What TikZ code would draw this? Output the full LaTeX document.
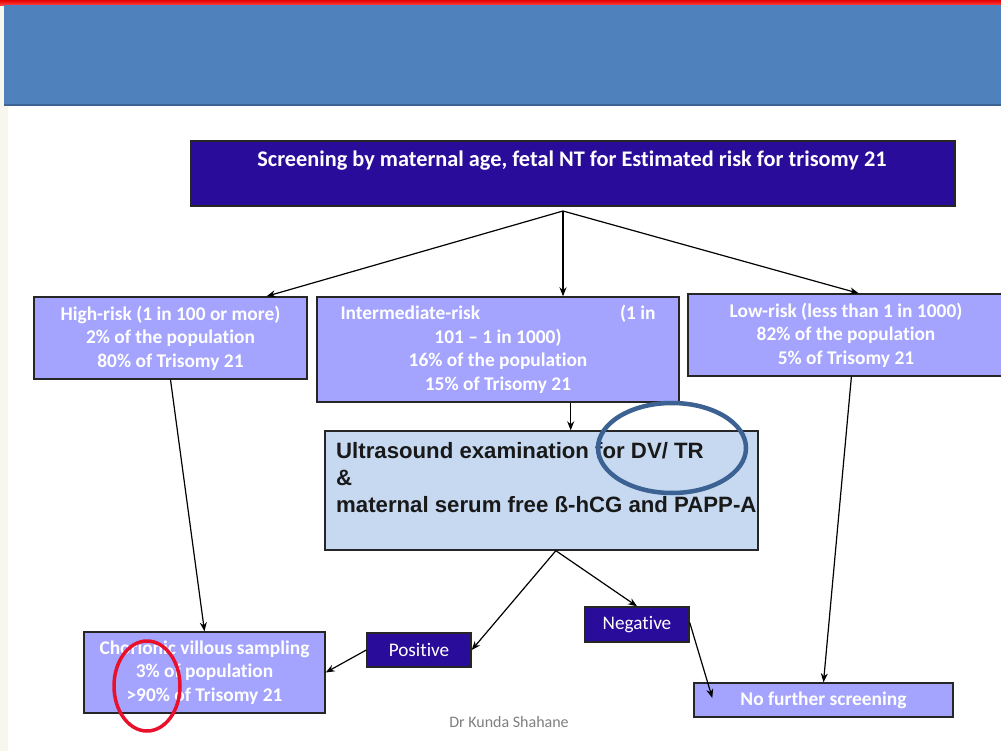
\documentclass[tikz,border=0pt]{standalone}
\usepackage{fontspec}
\setmainfont{Carlito}[Ligatures=NoCommon]
\newfontfamily\arialfont{Liberation Sans}
\usetikzlibrary{arrows.meta,calc}
\definecolor{indigo}{HTML}{2A0C9A}
\definecolor{peri}{HTML}{A4A4FF}
\definecolor{lightblue}{HTML}{C6D9F1}
\definecolor{hdrblue}{HTML}{4F81BD}
\definecolor{hdrdark}{HTML}{3E6494}
\definecolor{cream}{HTML}{F8F7EE}
\definecolor{ringblue}{HTML}{3B6293}
\definecolor{ringred}{HTML}{E8102A}
\definecolor{footgray}{HTML}{7F7F7F}
\tikzset{
  boxbase/.style={draw=black!85, line width=1.4pt, inner sep=0pt, rectangle},
  riskbox/.style={boxbase, fill=peri, text=white, align=center,
    font=\fontsize{19.4}{23.5}\selectfont\bfseries},
  darkbox/.style={boxbase, fill=indigo, text=white, align=center,
    font=\fontsize{19.2}{23}\selectfont},
  arr/.style={line width=1.2pt, -{Stealth[length=9pt,width=7pt]}},
}
\begin{document}
\begin{tikzpicture}[x=1pt,y=-1pt]
\useasboundingbox (0,0) rectangle (1001,751);
\fill[white] (0,0) rectangle (1001,751);
\fill[cream] (0,0) rectangle (8,751);
% header
\shade[top color=red!90!black, bottom color=red!70] (0,0) rectangle (1001,6);
\fill[hdrblue] (4,5) rectangle (1001,104);
\draw[hdrdark, line width=2pt] (4,105) -- (1001,105);

% boxes
\node[boxbase, fill=indigo, minimum width=764pt, minimum height=65pt] (top) at (573,173.5) {};
\node[text=white, font=\fontsize{22.3}{27}\selectfont\bfseries, inner sep=0pt] (toptext) at (572,161)
  {Screening by maternal age, fetal NT for Estimated risk for trisomy 21};

\node[riskbox, minimum width=273pt, minimum height=82pt] (high) at (170.5,338)
  {High-risk (1 in 100 or more)\\2\% of the population\\80\% of Trisomy 21};
\node[riskbox, minimum width=362pt, minimum height=105pt] (inter) at (498,349.5)
  {\makebox[315pt]{Intermediate-risk\hfill(1 in}\\101 – 1 in 1000)\\16\% of the population\\15\% of Trisomy 21};
\node[riskbox, minimum width=316pt, minimum height=82pt] (low) at (846,335)
  {Low-risk (less than 1 in 1000)\\82\% of the population\\5\% of Trisomy 21};

\node[boxbase, fill=lightblue, minimum width=433pt, minimum height=119pt] (us) at (541.5,490.5) {};
\node[anchor=north west, inner sep=0pt, align=left, text=black!90,
  font=\arialfont\fontsize{22.2}{27}\selectfont\bfseries] (ustext) at (336,442)
  {Ultrasound examination for DV/ TR\\\&\\maternal serum free ß-hCG and PAPP-A};

\node[riskbox, minimum width=241pt, minimum height=81pt] (cvs) at (204.5,672.5)
  {Chorionic villous sampling\\3\% of population\\>90\% of Trisomy 21};
\node[darkbox, minimum width=104pt, minimum height=34pt] (pos) at (419,650) {Positive};
\node[darkbox, minimum width=104pt, minimum height=35pt] (neg) at (637,624.5) {Negative};
\node[riskbox, minimum width=259pt, minimum height=34pt] (nfs) at (823.5,700) {No further screening};

% connectors
\coordinate (apex) at (563,211);
\draw[arr] (apex) -- ($(high.north west)!0.85!(high.north east)$);
\draw[arr] (apex) -- (apex |- inter.north);
\draw[arr] (apex) -- ($(low.north west)!0.54!(low.north east)$);
\draw[arr] (high.south) -- (cvs.north);
\coordinate (interout) at ($(inter.south west)!0.7!(inter.south east)$);
\draw[arr] (interout) -- (interout |- us.north);
\coordinate (usout) at ($(us.south west)!0.533!(us.south east)$);
\draw[arr] (usout) -- (pos.east);
\draw[arr] (usout) -- (neg.north);
\draw[arr] (pos.west) -- (cvs.east);
\draw[arr] ([yshift=2pt]neg.east) -- ($(nfs.west)+(19,-2)$);
\draw[arr] ($(low.south west)!0.517!(low.south east)$) -- (nfs.north);

% highlight rings
\draw[ringblue, line width=4.5pt] (672,448) ellipse [x radius=74pt, y radius=45pt];
\draw[ringred, line width=3.5pt] (147,686) ellipse [x radius=33pt, y radius=45pt];

\node[text=footgray, font=\fontsize{16}{19}\selectfont, inner sep=0pt] (foot) at (509,722) {Dr Kunda Shahane};
\end{tikzpicture}
\end{document}
